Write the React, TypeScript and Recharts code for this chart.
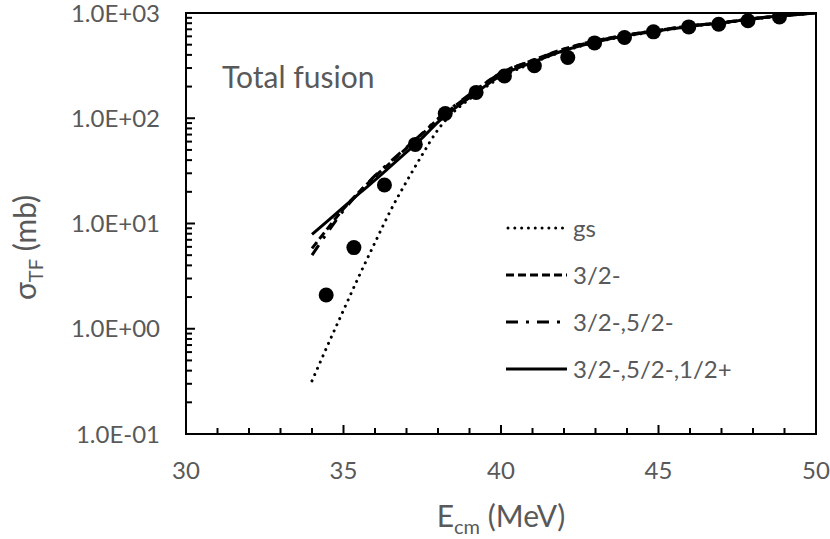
import React from "react";
import {
  ComposedChart,
  Line,
  Scatter,
  XAxis,
  YAxis,
  Legend,
  ReferenceArea,
} from "recharts";

// energies (MeV) where the calculated curves are sampled
const energies = [34, 34.5, 35, 35.5, 36, 36.5, 37, 37.5, 38, 38.5, 39, 40, 41, 42, 43, 44, 45, 46, 47, 48, 49, 50];

// calculated total fusion cross sections (mb)
const sigmaGs = [0.32, 0.7, 1.5, 3.2, 6.6, 13.4, 25, 45, 78, 115, 152, 245, 335, 435, 525, 605, 670, 745, 800, 875, 940, 1000];
const sigma32 = [5.8, 9.0, 13.8, 20, 28, 38, 52, 71, 98, 128, 166, 270, 355, 455, 545, 620, 685, 755, 810, 885, 950, 1000];
const sigma3252 = [5.0, 8.3, 13.3, 19.8, 28.5, 39, 53, 72, 99, 130, 168, 268, 352, 452, 542, 618, 683, 753, 808, 883, 948, 1000];
const sigma325212 = [7.9, 10.6, 14.3, 19.3, 25.8, 35, 47.6, 65, 92, 122, 157, 255, 340, 440, 530, 610, 675, 750, 805, 880, 945, 1000];

// measured points
const expEnergy = [34.45, 35.33, 36.3, 37.28, 38.23, 39.21, 40.11, 41.06, 42.12, 42.97, 43.92, 44.84, 45.96, 46.91, 47.84, 48.84];
const expSigma = [2.09, 5.9, 23.2, 56.4, 111, 176, 252, 315, 378, 520, 585, 662, 738, 783, 843, 918];

const xTicks = [30, 31, 32, 33, 34, 35, 36, 37, 38, 39, 40, 41, 42, 43, 44, 45, 46, 47, 48, 49, 50];
const xMajor = [30, 35, 40, 45, 50];
const yMajor = [0.1, 1, 10, 100, 1000];
const yTickLabels = ["1.0E-01", "1.0E+00", "1.0E+01", "1.0E+02", "1.0E+03"];
const minorSteps = [2, 3, 4, 5, 6, 7, 8, 9];

const yTicks = [
  ...yMajor,
  ...yMajor.slice(0, 4).flatMap((d) => minorSteps.map((m) => d * m)),
];

const toRows = (ys: number[]) => energies.map((x, i) => ({ x, y: ys[i] }));
const expRows = expEnergy.map((x, i) => ({ x, y: expSigma[i] }));

const series = [
  { name: "gs", data: toRows(sigmaGs), dash: "0.01 6.8", width: 3, cap: "round" as const },
  { name: "3/2-", data: toRows(sigma32), dash: "8 4", width: 3, cap: "butt" as const },
  { name: "3/2-,5/2-", data: toRows(sigma3252), dash: "12 8 3 8", width: 3, cap: "butt" as const },
  { name: "3/2-,5/2-,1/2+", data: toRows(sigma325212), dash: undefined, width: 3, cap: "butt" as const },
];

const FONT = "Lato, 'Open Sans', sans-serif";
const GREY = "#595959";

function YTick(props: any) {
  const { x, y, payload } = props;
  const idx = yMajor.findIndex((v) => Math.abs(v - payload.value) < 1e-9);
  const major = idx >= 0;
  return (
    <g>
      <line x1={x} x2={x + (major ? 9 : 6)} y1={y} y2={y} stroke="#000" strokeWidth={2} />
      {major && (
        <text x={x - 26} y={y + 8.5} textAnchor="end" fontSize={24} fill={GREY} fontFamily={FONT}>
          {yTickLabels[idx]}
        </text>
      )}
    </g>
  );
}

function XTick(props: any) {
  const { x, y, payload } = props;
  const major = xMajor.includes(payload.value);
  return (
    <g>
      <line x1={x} x2={x} y1={y} y2={y - (major ? 9 : 6)} stroke="#000" strokeWidth={2} />
      {major && (
        <text x={x} y={y + 45} textAnchor="middle" fontSize={24} fill={GREY} fontFamily={FONT}>
          {payload.value}
        </text>
      )}
    </g>
  );
}

function XTitle(props: any) {
  const { viewBox } = props;
  const cx = viewBox.x + viewBox.width / 2;
  return (
    <text x={cx} y={527} textAnchor="middle" fontSize={30} fill={GREY} fontFamily={FONT}>
      E
      <tspan fontSize={20} dy={7}>cm</tspan>
      <tspan dy={-7}> (MeV)</tspan>
    </text>
  );
}

function YTitle(props: any) {
  const { viewBox } = props;
  const cy = viewBox.y + viewBox.height / 2 + 24;
  const bx = 36;
  return (
    <text
      x={bx}
      y={cy}
      textAnchor="middle"
      fontSize={30}
      fill={GREY}
      fontFamily={FONT}
      transform={`rotate(-90, ${bx}, ${cy})`}
    >
      σ
      <tspan fontSize={20} dy={7}>TF</tspan>
      <tspan dy={-7}> (mb)</tspan>
    </text>
  );
}

function LegendBox() {
  return (
    <div style={{ fontFamily: FONT, fontSize: 24, color: GREY }}>
      {series.map((s) => (
        <div key={s.name} style={{ display: "flex", alignItems: "center", height: 47 }}>
          <svg width={62} height={10} style={{ marginRight: 5 }}>
            <line
              x1={s.cap === "round" ? 2 : 0}
              x2={61}
              y1={5}
              y2={5}
              stroke="#000"
              strokeWidth={s.width}
              strokeDasharray={s.dash}
              strokeLinecap={s.cap}
            />
          </svg>
          <span>{s.name}</span>
        </div>
      ))}
    </div>
  );
}

export default function App() {
  return (
    <div style={{ position: "relative", width: 830, height: 539, background: "#fff" }}>
      <style>{"body{margin:0}"}</style>
      <ComposedChart
        width={830}
        height={539}
        margin={{ top: 13, right: 14, left: 0, bottom: 0 }}
      >
        <XAxis
          dataKey="x"
          type="number"
          domain={[30, 50]}
          ticks={xTicks}
          interval={0}
          allowDataOverflow
          height={105}
          tickSize={0}
          tickMargin={0}
          tickLine={false}
          axisLine={{ stroke: "#000", strokeWidth: 2 }}
          tick={<XTick />}
          label={<XTitle />}
        />
        <YAxis
          dataKey="y"
          type="number"
          scale="log"
          domain={[0.1, 1000]}
          ticks={yTicks}
          interval={0}
          allowDataOverflow
          width={186}
          tickSize={0}
          tickMargin={0}
          tickLine={false}
          axisLine={{ stroke: "#000", strokeWidth: 2 }}
          tick={<YTick />}
          label={<YTitle />}
        />
        <ReferenceArea
          x1={30}
          x2={50}
          y1={0.1}
          y2={1000}
          fill="none"
          stroke="#000"
          strokeWidth={2}
          ifOverflow="visible"
        />
        {series.map((s) => (
          <Line
            key={s.name}
            data={s.data}
            dataKey="y"
            name={s.name}
            type="monotone"
            stroke="#000"
            strokeWidth={s.width}
            strokeDasharray={s.dash}
            strokeLinecap={s.cap}
            dot={false}
            activeDot={false}
            isAnimationActive={false}
          />
        ))}
        <Scatter
          data={expRows}
          dataKey="y"
          name="exp"
          isAnimationActive={false}
          shape={(p: any) => <circle cx={p.cx} cy={p.cy} r={7.5} fill="#000" />}
        />
        <Legend
          layout="vertical"
          align="center"
          verticalAlign="middle"
          wrapperStyle={{ left: 506, top: 204, width: 320 }}
          content={() => <LegendBox />}
        />
      </ComposedChart>
      <div
        style={{
          position: "absolute",
          left: 222,
          top: 58,
          fontFamily: FONT,
          fontSize: 30,
          color: GREY,
          lineHeight: "36px",
          whiteSpace: "nowrap",
        }}
      >
        Total fusion
      </div>
    </div>
  );
}
